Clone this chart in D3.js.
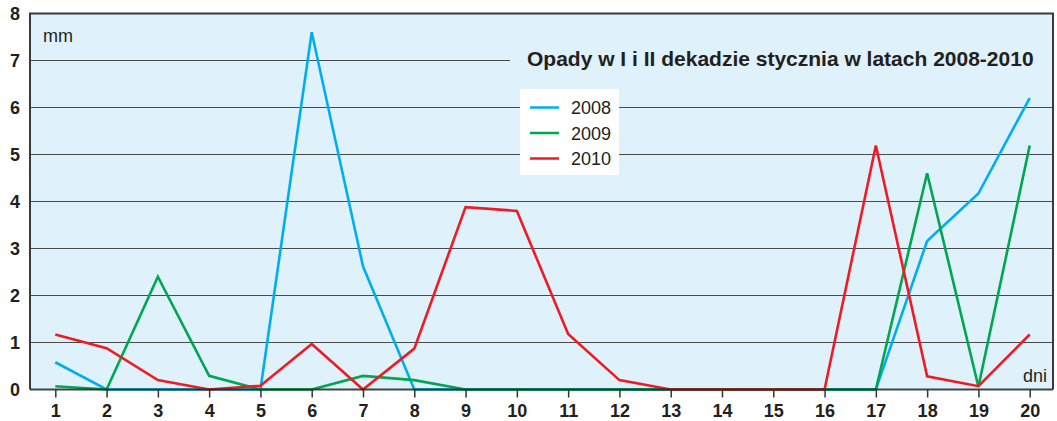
<!DOCTYPE html>
<html><head><meta charset="utf-8">
<script src="https://cdn.jsdelivr.net/npm/d3@7"></script>
<style>body{margin:0;background:#fff;}svg{display:block;font-family:"Liberation Sans",Arial,sans-serif;}</style>
</head><body><svg id="c" width="1057" height="421"></svg>
<script>
const days = d3.range(1, 21);
const yTicks = [0,1,2,3,4,5,6,7,8];
const s2008 = [0.58,0,0,0,0,7.6,2.62,0,0,0,0,0,0,0,0,0,0,3.16,4.17,6.2];
const s2009 = [0.07,0,2.4,0.29,0,0,0.29,0.2,0,0,0,0,0,0,0,0,0,4.6,0.06,5.19];
const s2010 = [1.17,0.88,0.2,0,0.08,0.97,0,0.87,3.88,3.8,1.18,0.2,0,0,0,0,5.19,0.28,0.07,1.17];
const seriesNames = ["2008","2009","2010"];
const colors = ["#00aeef","#00a651","#ed1c24"];
const title = "Opady w I i II dekadzie stycznia w latach 2008-2010";

const svg = d3.select("#c");
const L = 30, R = 1053, T = 13.5, B = 389.5;
const x = d3.scaleLinear().domain([1,20]).range([55.3,1029.7]);
const y = d3.scaleLinear().domain([0,8]).range([B,T]);

svg.append("rect").attr("x",L).attr("y",T).attr("width",R-L).attr("height",B-T).attr("fill","#dff1fb");

// gridlines
svg.append("g").selectAll("line").data(yTicks.filter(v=>v>0&&v<8)).join("line")
  .attr("x1",L).attr("x2",d=>d===7?510:R).attr("y1",d=>y(d)).attr("y2",d=>y(d))
  .attr("stroke","#4a4a4a").attr("stroke-width",1.2);

// legend box
const lg = svg.append("g");
lg.append("rect").attr("x",520).attr("y",89).attr("width",99).attr("height",86).attr("fill","#fff");
seriesNames.forEach((n,i)=>{
  const yy = 107.5 + i*25.5;
  lg.append("line").attr("x1",530).attr("x2",559).attr("y1",yy).attr("y2",yy).attr("stroke",colors[i]).attr("stroke-width",2.5);
  lg.append("text").attr("x",571).attr("y",yy+6.5).attr("font-size",18).attr("fill","#231f20").text(n);
});

// title
svg.append("text").attr("x",527).attr("y",66).attr("font-size",21).attr("font-weight","bold").attr("fill","#231f20").text(title);

// lines
const line = d3.line().x((d,i)=>x(days[i])).y(d=>y(d));
[s2008,s2009,s2010].forEach((s,i)=>{
  svg.append("path").datum(s).attr("d",line).attr("fill","none").attr("stroke",colors[i]).attr("stroke-width",2.6).attr("stroke-linejoin","miter");
});

// frame
svg.append("path").attr("d",`M${L},${B}V${T}H${R}V${B}`).attr("fill","none").attr("stroke","#3a3a3a").attr("stroke-width",2);

// x axis
const xAxis = svg.append("g").attr("transform",`translate(0,${B})`)
  .call(d3.axisBottom(x).tickValues(days).tickSize(8).tickSizeOuter(0).tickPadding(7).tickFormat(d3.format("d")));
xAxis.select(".domain").attr("d",`M${L},0H${R}`).attr("stroke","#1a2a1f").attr("stroke-width",2.2).attr("stroke-opacity",0.85);
xAxis.selectAll(".tick line").attr("stroke","#333").attr("stroke-width",1.5);
xAxis.selectAll(".tick text").attr("font-size",18).attr("font-weight","bold").attr("fill","#231f20").attr("font-family","Liberation Sans, Arial, sans-serif");

// y labels
const yAxis = svg.append("g").attr("transform",`translate(${L},0)`)
  .call(d3.axisLeft(y).tickValues(yTicks).tickSize(0).tickPadding(10).tickFormat(d3.format("d")));
yAxis.select(".domain").remove();
yAxis.selectAll(".tick text").attr("font-size",18).attr("font-weight","bold").attr("fill","#231f20").attr("font-family","Liberation Sans, Arial, sans-serif");

svg.append("text").attr("x",43).attr("y",42).attr("font-size",18).attr("fill","#231f20").text("mm");
svg.append("text").attr("x",1047).attr("y",382).attr("text-anchor","end").attr("font-size",18).attr("fill","#231f20").text("dni");
</script></body></html>
